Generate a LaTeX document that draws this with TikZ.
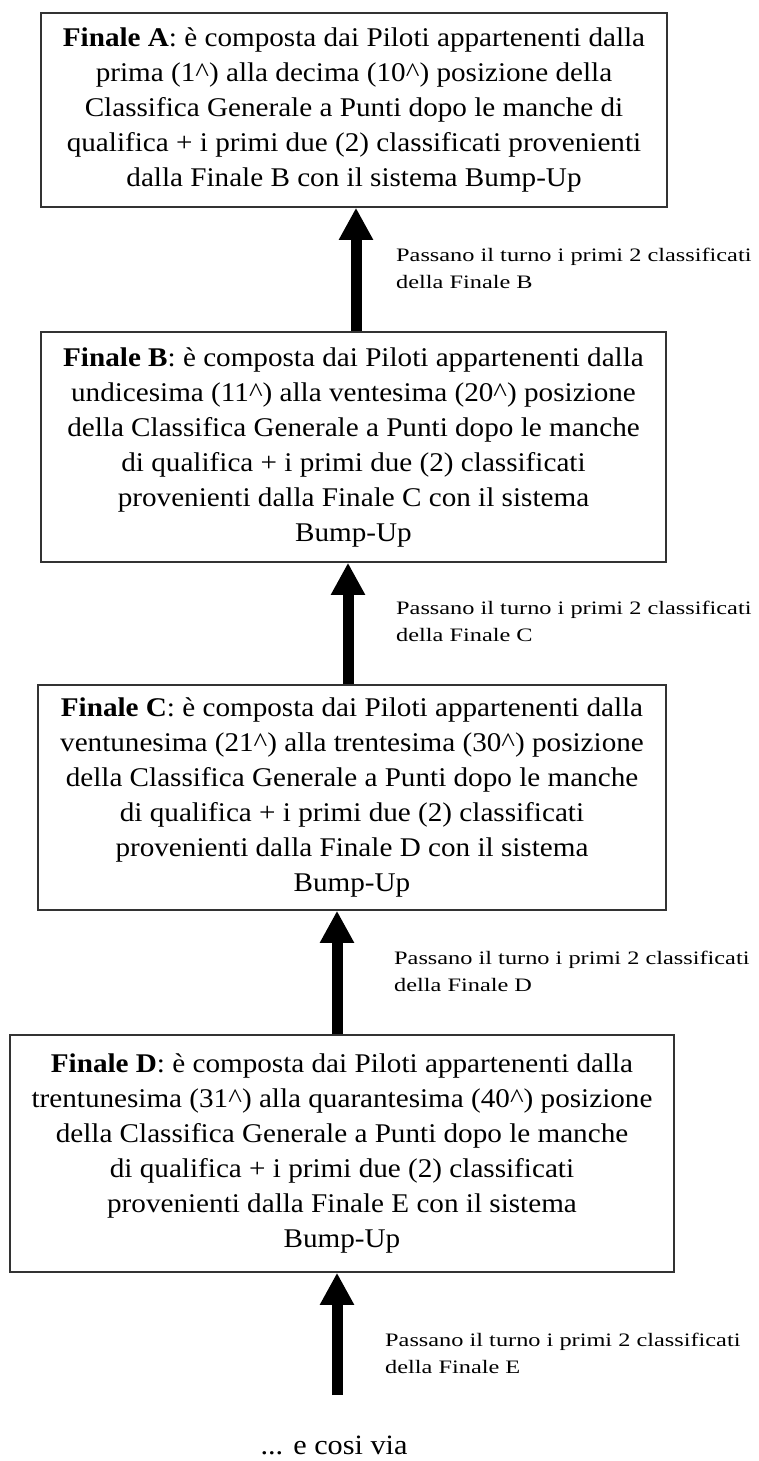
\documentclass[tikz,border=0pt]{standalone}
\usepackage{fontspec}
\setmainfont{Liberation Serif}[FakeStretch=1.08]
\newfontfamily\passfont{Liberation Serif}[FakeStretch=1.28]
\usetikzlibrary{arrows.meta}

\begin{document}
\begin{tikzpicture}[x = 1pt, y = -1pt, > = {Triangle[width = 32pt, length = 32pt]}]

	% Definitions
	
	\tikzset{
		finale/.style = {draw = black!80, line width = 1.5pt, align = center, inner sep = 0pt, font = \fontsize{27}{35}\selectfont},
		passa/.style = {anchor = west, align = left, inner sep = 0pt, font = \passfont\fontsize{19}{27}\selectfont},
		salita/.style = {->, line width = 11pt}
	}
	
	\useasboundingbox (0, 0) rectangle (758, 1461);
	
	% Draw boxes of the finals
	
	\node [finale, minimum width = 626pt, minimum height = 194pt] (a) at (354, 110)
		{\textbf{Finale A}: è composta dai Piloti appartenenti dalla\\
		prima (1\textasciicircum) alla decima (10\textasciicircum) posizione della\\
		Classifica Generale a Punti dopo le manche di\\
		qualifica + i primi due (2) classificati provenienti\\
		dalla Finale B con il sistema Bump-Up};
	
	\node [finale, minimum width = 625pt, minimum height = 230pt] (b) at (353.5, 447)
		{\textbf{Finale B}: è composta dai Piloti appartenenti dalla\\
		undicesima (11\textasciicircum) alla ventesima (20\textasciicircum) posizione\\
		della Classifica Generale a Punti dopo le manche\\
		di qualifica + i primi due (2) classificati\\
		provenienti dalla Finale C con il sistema\\
		Bump-Up};
	
	\node [finale, minimum width = 628pt, minimum height = 225pt] (c) at (352, 797.5)
		{\textbf{Finale C}: è composta dai Piloti appartenenti dalla\\
		ventunesima (21\textasciicircum) alla trentesima (30\textasciicircum) posizione\\
		della Classifica Generale a Punti dopo le manche\\
		di qualifica + i primi due (2) classificati\\
		provenienti dalla Finale D con il sistema\\
		Bump-Up};
	
	\node [finale, minimum width = 664pt, minimum height = 237pt] (d) at (342, 1153.5)
		{\textbf{Finale D}: è composta dai Piloti appartenenti dalla\\
		trentunesima (31\textasciicircum) alla quarantesima (40\textasciicircum) posizione\\
		della Classifica Generale a Punti dopo le manche\\
		di qualifica + i primi due (2) classificati\\
		provenienti dalla Finale E con il sistema\\
		Bump-Up};
	
	% Draw arrows
	
	\foreach \lo/\hi/\dx in {b/a/2.5, c/b/-4, d/c/-5}
		\draw [salita] ([xshift = \dx pt] \lo.north) -- ([xshift = \dx pt] \lo.north |- \hi.south);
	
	\coordinate (e) at (337, 1395);
	\draw [salita] (e) -- (e |- d.south);
	
	% Draw labels
	
	\foreach \l/\x/\y/\f in {pb/396/268/B, pc/396/621/C, pd/394/971/D, pe/385/1353/E}
		\node [passa] (\l) at (\x, \y) {Passano il turno i primi 2 classificati\\della Finale \f};
	
	\node [anchor = base, inner sep = 0pt, font = \fontsize{28}{35}\selectfont] (via) at (334, 1454) {... e cosi via};
	
\end{tikzpicture}
\end{document}
